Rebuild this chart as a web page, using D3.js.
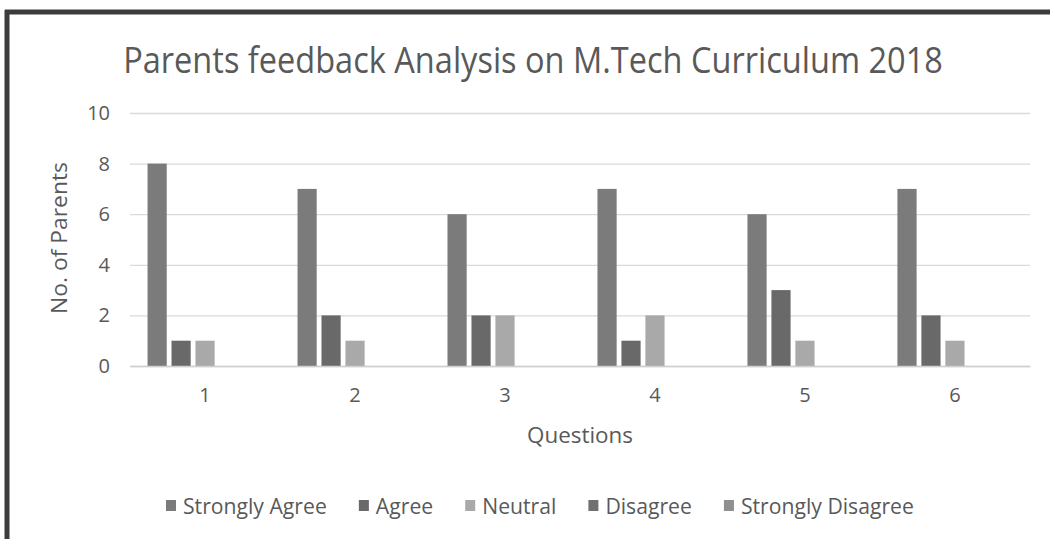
<!DOCTYPE html>
<html>
<head>
<meta charset="utf-8">
<script src="https://cdn.jsdelivr.net/npm/d3@7"></script>
<style>
  body { margin:0; background:#fff; }
  text { font-family:"Open Sans","Noto Sans",sans-serif; fill:#595959; }
</style>
</head>
<body>
<div id="canvas"></div>
<script>
// data
var questions = ['1','2','3','4','5','6'];
var seriesNames = ['Strongly Agree','Agree','Neutral','Disagree','Strongly Disagree'];
var stronglyAgree = [8,7,6,7,6,7];
var agree = [1,2,2,1,3,2];
var neutral = [1,1,2,2,1,1];
var disagree = [0,0,0,0,0,0];
var stronglyDisagree = [0,0,0,0,0,0];
var yTicks = [0,2,4,6,8,10];
var colors = ['#7b7b7b','#696969','#a9a9a9','#707070','#8f8f8f'];

var W = 1050, H = 539;
var m = {t:113, r:20, b:173, l:130};
var w = W - m.l - m.r, h = H - m.t - m.b;

var svg = d3.select('#canvas').append('svg')
    .attr('width',W).attr('height',H);

// frame (scanned chart border)
svg.append('rect').attr('x',0).attr('y',0).attr('width',W).attr('height',H).attr('fill','#fff');
svg.append('line').attr('x1',5).attr('x2',W).attr('y1',12).attr('y2',12)
    .attr('stroke','#3c3c3c').attr('stroke-width',5);
svg.append('line').attr('x1',7).attr('x2',7).attr('y1',10).attr('y2',H)
    .attr('stroke','#3c3c3c').attr('stroke-width',5);

var rows = questions.map(function(q,i){
    return {q:q, vals:[stronglyAgree[i],agree[i],neutral[i],disagree[i],stronglyDisagree[i]]};
});

var x0 = d3.scaleBand().domain(questions).range([0,w]).paddingInner(0.233).paddingOuter(0.117);
var x1 = d3.scaleBand().domain(d3.range(5)).range([0,x0.bandwidth()]).paddingInner(0.2);
var y = d3.scaleLinear().domain([0,10]).range([h,0]);

var plot = svg.append('g').attr('transform','translate(' + m.l + ',' + m.t + ')');

// gridlines
var axisY = d3.axisLeft(y).tickValues(yTicks).tickSize(-w).tickPadding(20);
plot.append('g').attr('class','axis-y').call(axisY)
    .call(function(g){
        g.select('.domain').remove();
        g.selectAll('line').attr('stroke','#d9d9df').attr('stroke-width',1.3);
        g.selectAll('text').attr('font-size',20).attr('fill','#595959');
    });

// bars
var groups = plot.selectAll('.q').data(rows).enter().append('g')
    .attr('class','q')
    .attr('transform',function(d){ return 'translate(' + x0(d.q) + ',0)'; });
groups.selectAll('rect').data(function(d){ return d.vals; }).enter().append('rect')
    .attr('x',function(d,i){ return x1(i); })
    .attr('width',x1.bandwidth())
    .attr('y',function(d){ return y(d); })
    .attr('height',function(d){ return h - y(d); })
    .attr('fill',function(d,i){ return colors[i]; });

// x axis
var axisX = d3.axisBottom(x0).tickSize(0).tickPadding(22);
plot.append('g').attr('transform','translate(0,' + h + ')').call(axisX)
    .call(function(g){
        g.select('.domain').attr('stroke','#cfcfcf').attr('stroke-width',1.5);
        g.selectAll('text').attr('font-size',20).attr('fill','#595959');
    });

// narrow a text horizontally to a given width (stands in for Calibri)
function squeeze(t, x, y, width, rot){
    var nw = t.node().getComputedTextLength();
    t.attr('transform','translate(' + x + ',' + y + ')' + (rot ? ' rotate(' + rot + ')' : '') +
        ' scale(' + (width / nw) + ',1)');
}

// titles
var title = svg.append('text').attr('text-anchor','middle').attr('font-size',37)
    .text('Parents feedback Analysis on M.Tech Curriculum 2018');
squeeze(title, 533, 73, 820);
var xt = svg.append('text').attr('text-anchor','middle').attr('font-size',22).text('Questions');
squeeze(xt, m.l + w/2, 443, 106);
var yt = svg.append('text').attr('text-anchor','middle').attr('font-size',22).text('No. of Parents');
squeeze(yt, 67, 238, 152, -90);

// legend: fit the five labels into the width seen in the picture
var legend = svg.append('g').attr('class','legend');
var labels = seriesNames.map(function(name){
    return legend.append('text').attr('font-size',21).text(name);
});
var natural = d3.sum(labels, function(t){ return t.node().getComputedTextLength(); });
var k = 535 / natural;
var lx = 166;
labels.forEach(function(t,i){
    var tw = t.node().getComputedTextLength() * k;
    legend.append('rect').attr('x',lx).attr('y',500).attr('width',10).attr('height',11).attr('fill',colors[i]);
    t.attr('transform','translate(' + (lx + 17) + ',514) scale(' + k + ',1)');
    lx += 17 + tw + 32;
});
</script>
</body>
</html>
